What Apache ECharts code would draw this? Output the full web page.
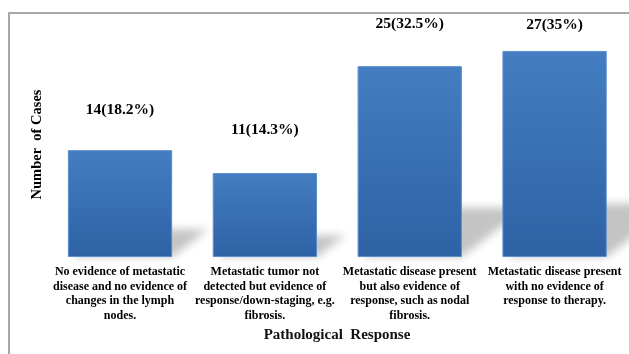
<!DOCTYPE html>
<html>
<head>
<meta charset="utf-8">
<script src="https://cdn.jsdelivr.net/npm/echarts@6/dist/echarts.min.js"></script>
<style>
  html, body { margin: 0; padding: 0; background: #fff; }
  #chart { width: 629px; height: 354px; }
</style>
</head>
<body>
<div id="chart"></div>
<script>
// Pathological response categories
const categories = [
  'No evidence of metastatic\ndisease and no evidence of\nchanges in the lymph\nnodes.',
  'Metastatic tumor not\ndetected but evidence of\nresponse/down-staging, e.g.\nfibrosis.',
  'Metastatic disease present\nbut also evidence of\nresponse, such as nodal\nfibrosis.',
  'Metastatic disease present\nwith no evidence of\nresponse to therapy.'
];
// Number of cases per category and share of all cases (%)
const cases = [14, 11, 25, 27];
const percents = [18.2, 14.3, 32.5, 35];

const SERIF = '"Liberation Serif", "Times New Roman", serif';
const BAR_RATIO = 0.72;
const labelGap = [32, 35, 34, 18];
// the shadow polygon is drawn off to the side and only its blurred shadow lands under the bar
const SHIFT = 2000;

const chart = echarts.init(document.getElementById('chart'), null, { renderer: 'canvas' });

const option = {
  backgroundColor: '#fff',
  animation: false,
  grid: { left: 47.6, right: 2, top: 28, bottom: 97, containLabel: false },
  xAxis: {
    type: 'category',
    data: categories,
    axisLine: { show: false },
    axisTick: { show: false },
    axisLabel: {
      interval: 0,
      margin: 8,
      color: '#000',
      fontFamily: SERIF,
      fontWeight: 'bold',
      fontSize: 12,
      lineHeight: 14.5,
      align: 'center'
    }
  },
  yAxis: {
    type: 'value',
    min: 0,
    max: 30,
    show: false
  },
  graphic: [
    {
      type: 'rect',
      shape: { x: 9, y: 13, width: 700, height: 400 },
      style: { fill: 'none', stroke: '#a8a8a8', lineWidth: 2 },
      silent: true, z: -10
    },
    {
      type: 'text',
      x: 37, y: 144.5,
      rotation: Math.PI / 2,
      style: {
        text: 'Number  of Cases',
        font: 'bold 14.5px ' + SERIF,
        fill: '#000',
        textAlign: 'center',
        textVerticalAlign: 'middle'
      }
    },
    {
      type: 'text',
      x: 337, y: 335,
      style: {
        text: 'Pathological  Response',
        font: 'bold 15px ' + SERIF,
        fill: '#111',
        textAlign: 'center',
        textVerticalAlign: 'middle'
      }
    }
  ],
  series: [
    {
      // Soft cast shadow behind each bar
      type: 'custom',
      z: 1,
      clip: false,
      silent: true,
      data: cases.map((v, i) => [i, v]),
      renderItem: function (params, api) {
        const base = api.coord([api.value(0), 0]);
        const top = api.coord([api.value(0), api.value(1)]);
        const w = api.size([1, 0])[0] * BAR_RATIO;
        const x0 = base[0] - w / 2;
        const x1 = base[0] + w / 2;
        const h = base[1] - top[1];
        const sh = h * 0.26;
        const dx = sh * 1.3;
        return {
          type: 'polygon',
          shape: {
            points: [
              [x0 + 4 - SHIFT, base[1]],
              [x1 - SHIFT, base[1]],
              [x1 + dx - SHIFT, base[1] - sh],
              [x0 + dx - SHIFT, base[1] - sh]
            ]
          },
          style: {
            fill: '#000',
            shadowBlur: 9,
            shadowOffsetX: SHIFT,
            shadowColor: 'rgba(0,0,0,0.23)'
          }
        };
      }
    },
    {
      type: 'bar',
      z: 3,
      barWidth: (BAR_RATIO * 100) + '%',
      data: cases.map((v, i) => ({
        value: v,
        label: { distance: labelGap[i] }
      })),
      itemStyle: {
        color: new echarts.graphic.LinearGradient(0, 0, 0, 1, [
          { offset: 0, color: '#447dc1' },
          { offset: 1, color: '#2e62a5' }
        ]),
        borderColor: '#5a8ed0',
        borderWidth: 1
      },
      label: {
        show: true,
        position: 'top',
        color: '#000',
        fontFamily: SERIF,
        fontWeight: 'bold',
        fontSize: 15.5,
        formatter: p => cases[p.dataIndex] + '(' + percents[p.dataIndex] + '%)'
      }
    }
  ]
};

chart.setOption(option);
</script>
</body>
</html>
